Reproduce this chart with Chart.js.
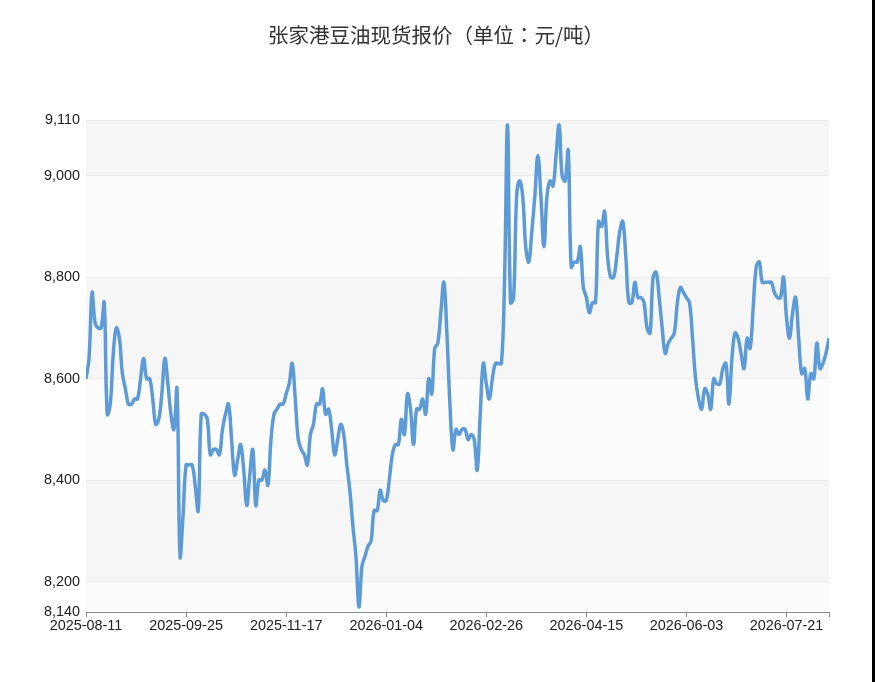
<!DOCTYPE html>
<html>
<head>
<meta charset="utf-8">
<script src="https://cdn.jsdelivr.net/npm/chart.js@4.4.1/dist/chart.umd.min.js"></script>
<style>
  html, body { margin: 0; padding: 0; background: #fff; }
  #wrap { position: relative; width: 875px; height: 682px; }
  #edge { position: absolute; right: 0; top: 0; width: 3px; height: 682px; background: #000; }
</style>
</head>
<body>
<div id="wrap">
  <canvas id="chart" width="875" height="682"></canvas>
  <div id="edge"></div>
</div>
<script>
const chartTitle = '张家港豆油现货报价（单位：元/吨）';

// one label every 33 trading days, starting at the first point
const xTickLabels = ['2025-08-11', '2025-09-25', '2025-11-17', '2026-01-04',
  '2026-02-26', '2026-04-15', '2026-06-03', '2026-07-21'];
const pointsPerLabel = 33;

const yTickValues = [8140, 8200, 8400, 8600, 8800, 9000, 9110];

// daily spot price, 2025-08-11 .. 2026-08-10
const prices = [
  8600, 8640, 8770, 8710, 8700, 8700, 8750, 8530, 8550, 8650,
  8700, 8680, 8610, 8580, 8550, 8550, 8560, 8560, 8600, 8640,
  8600, 8600, 8560, 8510, 8520, 8570, 8640, 8590, 8530, 8500,
  8580, 8250, 8330, 8430, 8430, 8430, 8390, 8340, 8530, 8530,
  8520, 8450, 8460, 8460, 8450, 8500, 8530, 8550, 8480, 8410,
  8440, 8470, 8420, 8350, 8410, 8460, 8350, 8400, 8400, 8420,
  8390, 8480, 8530, 8540, 8550, 8550, 8570, 8590, 8630, 8560,
  8480, 8460, 8450, 8430, 8490, 8510, 8550, 8550, 8580, 8530,
  8540, 8500, 8450, 8480, 8510, 8490, 8430, 8380, 8310, 8250,
  8150, 8230, 8250, 8270, 8280, 8340, 8340, 8380, 8360, 8360,
  8400, 8450, 8470, 8470, 8520, 8490, 8570, 8540, 8470, 8540,
  8540, 8560, 8530, 8600, 8570, 8660, 8670, 8730, 8790, 8690,
  8550, 8460, 8500, 8490, 8500, 8500, 8480, 8490, 8480, 8420,
  8530, 8630, 8590, 8560, 8600, 8630, 8630, 8630, 8790, 9100,
  8750, 8760, 8960, 8990, 8960, 8860, 8830, 8890, 8960, 9040,
  8960, 8860, 8960, 8990, 8980, 9040, 9100, 9000, 8990, 9050,
  8820, 8830, 8830, 8860, 8780, 8760, 8730, 8750, 8750, 8910,
  8900, 8930, 8840, 8800, 8800, 8840, 8890, 8910, 8840, 8750,
  8750, 8790, 8760, 8760, 8750, 8700, 8690, 8800, 8810, 8760,
  8700, 8650, 8670, 8680, 8690, 8750, 8780, 8770, 8760, 8750,
  8680, 8600, 8560, 8540, 8580, 8570, 8540, 8600, 8590, 8590,
  8620, 8630, 8550, 8640, 8690, 8680, 8650, 8620, 8680, 8660,
  8740, 8820, 8830, 8790, 8790, 8790, 8790, 8770, 8760, 8760,
  8800, 8720, 8680, 8730, 8760, 8680, 8610, 8620, 8560, 8610,
  8600, 8670, 8620, 8630, 8650, 8680
];

const lastIndex = prices.length - 1;

// alternating grey bands between the y grid lines
const bandPlugin = {
  id: 'bands',
  beforeDraw(chart) {
    const { ctx, chartArea, scales } = chart;
    const ticks = scales.y.ticks;
    ctx.save();
    for (let i = 0; i < ticks.length - 1; i++) {
      const y1 = scales.y.getPixelForValue(ticks[i].value);
      const y2 = scales.y.getPixelForValue(ticks[i + 1].value);
      ctx.fillStyle = i % 2 === 0 ? '#fcfcfc' : '#f6f6f6';
      ctx.fillRect(chartArea.left, y2, chartArea.right - chartArea.left, y1 - y2);
    }
    ctx.restore();
  }
};

// title drawn glyph by glyph so full-width punctuation keeps a full em cell
const titleSize = 20.5;
const titlePlugin = {
  id: 'topTitle',
  afterDraw(chart) {
    const ctx = chart.ctx;
    ctx.save();
    ctx.font = titleSize + 'px "Noto Sans CJK TC", sans-serif';
    ctx.fillStyle = '#333';
    ctx.textBaseline = 'middle';
    const chars = Array.from(chartTitle);
    const widths = chars.map(c => (c.charCodeAt(0) >= 0x2E80 ? titleSize : ctx.measureText(c).width));
    const total = widths.reduce((a, b) => a + b, 0);
    let x = 436 - total / 2;
    chars.forEach((c, i) => {
      if (c === '（') {
        ctx.textAlign = 'right';
        ctx.fillText(c, x + widths[i], 35);
      } else if (c === '：') {
        ctx.textAlign = 'center';
        ctx.fillText(c, x + widths[i] / 2, 35);
      } else {
        ctx.textAlign = 'left';
        ctx.fillText(c, x, 35);
      }
      x += widths[i];
    });
    ctx.restore();
  }
};

const tickFont = { family: '"Liberation Sans", Arial, sans-serif', size: 14.4 };

new Chart(document.getElementById('chart'), {
  type: 'line',
  data: {
    datasets: [{
      label: chartTitle,
      data: prices.map((v, i) => ({ x: i, y: v })),
      borderColor: '#5d9bd6',
      borderWidth: 3.5,
      pointRadius: 0,
      tension: 0.4,
      fill: false
    }]
  },
  options: {
    responsive: false,
    animation: false,
    layout: { padding: { top: 120, right: 46, bottom: 0, left: 0 } },
    plugins: {
      legend: { display: false },
      tooltip: { enabled: false }
    },
    scales: {
      x: {
        type: 'linear',
        min: 0,
        max: lastIndex,
        afterBuildTicks(scale) {
          const t = xTickLabels.map((_, i) => ({ value: i * pointsPerLabel }));
          t.push({ value: lastIndex });
          scale.ticks = t;
        },
        afterFit(scale) { scale.height = 70; },
        ticks: {
          autoSkip: false,
          maxRotation: 0,
          padding: 0,
          color: '#222',
          font: tickFont,
          callback: (v) => (v % pointsPerLabel === 0 ? xTickLabels[v / pointsPerLabel] : '')
        },
        grid: { drawOnChartArea: false, drawTicks: true, tickLength: 5, color: '#8c8c8c' },
        border: { display: true, color: '#8c8c8c', width: 1 }
      },
      y: {
        min: yTickValues[0],
        max: yTickValues[yTickValues.length - 1],
        afterBuildTicks(scale) {
          scale.ticks = yTickValues.map(v => ({ value: v }));
        },
        afterFit(scale) { scale.width = 86; },
        ticks: {
          padding: 6,
          color: '#222',
          font: tickFont,
          callback: (v) => v.toLocaleString('en-US')
        },
        grid: { drawTicks: false, color: '#ebebeb' },
        border: { display: false }
      }
    }
  },
  plugins: [bandPlugin, titlePlugin]
});
</script>
</body>
</html>
